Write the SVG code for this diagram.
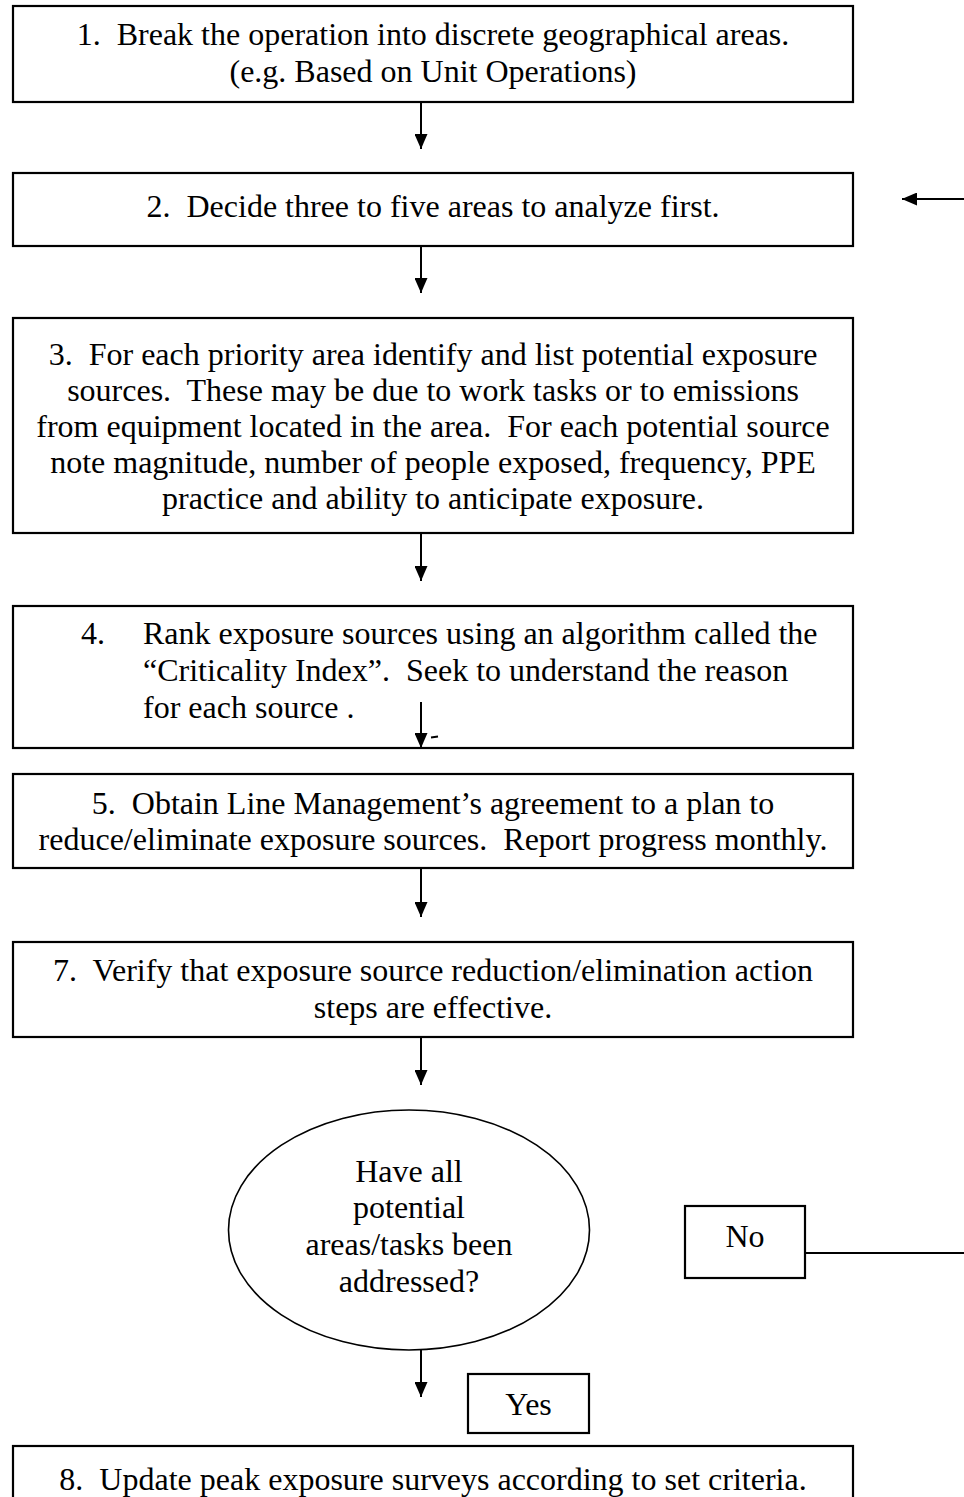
<svg xmlns="http://www.w3.org/2000/svg" width="964" height="1497" viewBox="0 0 964 1497" xml:space="preserve">
<style>
.box{fill:#fff;stroke:#000;stroke-width:2.2}
.ell{fill:#fff;stroke:#000;stroke-width:1.6}
.t{font-family:"Liberation Serif","Times New Roman",serif;font-size:32px;fill:#000;white-space:pre}
.c{text-anchor:middle}
.ln{stroke:#000;stroke-width:2;fill:none}
</style>
<defs>
<marker id="ah" markerUnits="userSpaceOnUse" markerWidth="14" markerHeight="13" refX="15" refY="6.5" orient="auto">
<path d="M0,0 L15,6.5 L0,13 z" fill="#000"/>
</marker>
</defs>
<rect width="964" height="1497" fill="#fff"/>
<g id="connectors">
<line class="ln" x1="421" y1="102" x2="421" y2="149" marker-end="url(#ah)"/>
<line class="ln" x1="421" y1="246" x2="421" y2="293" marker-end="url(#ah)"/>
<line class="ln" x1="421" y1="533" x2="421" y2="581" marker-end="url(#ah)"/>
<line class="ln" x1="421" y1="868" x2="421" y2="917" marker-end="url(#ah)"/>
<line class="ln" x1="421" y1="1037" x2="421" y2="1085" marker-end="url(#ah)"/>
<line class="ln" x1="421" y1="1350" x2="421" y2="1397" marker-end="url(#ah)"/>
<line class="ln" x1="805" y1="1253" x2="964" y2="1253"/>
<line class="ln" x1="964" y1="199" x2="902" y2="199" marker-end="url(#ah)"/>
</g>
<g id="n1">
<rect class="box" x="13" y="6" width="840" height="96"/>
<text class="t c" x="433" y="45">1.  Break the operation into discrete geographical areas.</text>
<text class="t c" x="433" y="82">(e.g. Based on Unit Operations)</text>
</g>
<g id="n2">
<rect class="box" x="13" y="173" width="840" height="73"/>
<text class="t c" x="433" y="217">2.  Decide three to five areas to analyze first.</text>
</g>
<g id="n3">
<rect class="box" x="13" y="318" width="840" height="215"/>
<text class="t c" x="433" y="365">3.  For each priority area identify and list potential exposure</text>
<text class="t c" x="433" y="401">sources.  These may be due to work tasks or to emissions</text>
<text class="t c" x="433" y="437">from equipment located in the area.  For each potential source</text>
<text class="t c" x="433" y="473">note magnitude, number of people exposed, frequency, PPE</text>
<text class="t c" x="433" y="509">practice and ability to anticipate exposure.</text>
</g>
<g id="n4">
<rect class="box" x="13" y="606" width="840" height="142"/>
<text class="t" x="81" y="644">4.</text>
<text class="t" x="143" y="644">Rank exposure sources using an algorithm called the</text>
<text class="t" x="143" y="681">“Criticality Index”.  Seek to understand the reason</text>
<text class="t" x="143" y="718">for each source .</text>
<line class="ln" x1="421" y1="702" x2="421" y2="748" marker-end="url(#ah)"/>
<line x1="431" y1="737.5" x2="438" y2="736.5" stroke="#000" stroke-width="2"/>
</g>
<g id="n5">
<rect class="box" x="13" y="774" width="840" height="94"/>
<text class="t c" x="433" y="814">5.  Obtain Line Management’s agreement to a plan to</text>
<text class="t c" x="433" y="850">reduce/eliminate exposure sources.  Report progress monthly.</text>
</g>
<g id="n7">
<rect class="box" x="13" y="942" width="840" height="95"/>
<text class="t c" x="433" y="981">7.  Verify that exposure source reduction/elimination action</text>
<text class="t c" x="433" y="1018">steps are effective.</text>
</g>
<g id="decision">
<ellipse class="ell" cx="409" cy="1230" rx="180.5" ry="120"/>
<text class="t c" x="409" y="1182">Have all</text>
<text class="t c" x="409" y="1218">potential</text>
<text class="t c" x="409" y="1255">areas/tasks been</text>
<text class="t c" x="409" y="1292">addressed?</text>
</g>
<g id="no">
<rect class="box" x="685" y="1206" width="120" height="72"/>
<text class="t c" x="745" y="1247">No</text>
</g>
<g id="yes">
<rect class="box" x="468" y="1374" width="121" height="59"/>
<text class="t c" x="528.5" y="1415">Yes</text>
</g>
<g id="n8">
<rect class="box" x="13" y="1446" width="840" height="70"/>
<text class="t c" x="433" y="1490">8.  Update peak exposure surveys according to set criteria.</text>
</g>
</svg>
